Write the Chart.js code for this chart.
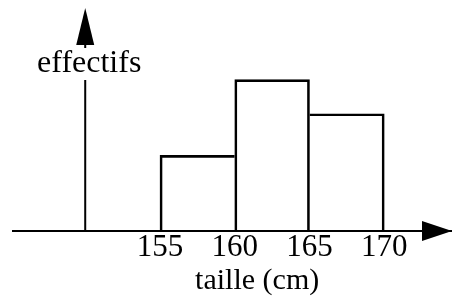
<!DOCTYPE html>
<html>
<head>
<meta charset="utf-8">
<script src="https://cdn.jsdelivr.net/npm/chart.js@4/dist/chart.umd.min.js"></script>
<style>
    html, body { margin: 0; padding: 0; background: #fff; }
    canvas { display: block; }
</style>
</head>
<body>
<canvas id="hist" width="452" height="300"></canvas>
<script>
// Height classes (cm) and counts
const classStart = [155, 160, 165];
const classEnd = [160, 165, 170];
const effectifs = [10, 20, 15.5];
const tickValues = [155, 160, 165, 170];
const yAxisAt = 150;

const FONT = "'Liberation Serif', 'Times New Roman', serif";
const LINE = 2;

/**
 * Draw axes arrows, the vertical axis and the two axis labels
 */
const axisArrows = {
    id: 'axisArrows',
    afterDraw(chart) {
        const ctx = chart.ctx;
        const { top, bottom, right } = chart.chartArea;
        const xs = chart.scales.x;
        const x0 = xs.getPixelForValue(yAxisAt);

        ctx.save();
        ctx.fillStyle = '#000';
        ctx.strokeStyle = '#000';
        ctx.lineWidth = LINE;

        // x arrow head
        ctx.beginPath();
        ctx.moveTo(right, bottom);
        ctx.lineTo(right - 30, bottom - 10);
        ctx.lineTo(right - 30, bottom + 10);
        ctx.closePath();
        ctx.fill();

        // vertical axis, broken by the label
        ctx.beginPath();
        ctx.moveTo(x0, bottom);
        ctx.lineTo(x0, top + 72);
        ctx.moveTo(x0, top + 36);
        ctx.lineTo(x0, top + 40);
        ctx.stroke();

        // y arrow head
        ctx.beginPath();
        ctx.moveTo(x0, top);
        ctx.lineTo(x0 - 9, top + 37);
        ctx.lineTo(x0 + 9, top + 37);
        ctx.closePath();
        ctx.fill();

        // labels
        ctx.textAlign = 'center';
        ctx.textBaseline = 'alphabetic';
        ctx.font = '32px ' + FONT;
        ctx.fillText('effectifs', x0 + 4, top + 64);
        ctx.font = '30px ' + FONT;
        ctx.fillText('taille (cm)', xs.getPixelForValue(161.5), bottom + 58);
        ctx.restore();
    }
};

// Draw each shared side once (by the taller bar)
function barBorder(context) {
    const i = context.dataIndex;
    const last = effectifs.length - 1;
    return {
        top: LINE,
        left: i === 0 || effectifs[i] > effectifs[i - 1] ? LINE : 0,
        right: i === last || effectifs[i] >= effectifs[i + 1] ? LINE : 0,
        bottom: 0
    };
}

new Chart(document.getElementById('hist'), {
    type: 'bar',
    data: {
        datasets: [{
            data: classStart.map((s, i) => ({ x: (s + classEnd[i]) / 2, y: effectifs[i] })),
            backgroundColor: 'rgba(0,0,0,0)',
            borderColor: '#000',
            borderWidth: barBorder,
            borderSkipped: false,
            barPercentage: 1,
            categoryPercentage: 1
        }]
    },
    options: {
        responsive: false,
        animation: false,
        devicePixelRatio: 1,
        layout: { padding: { left: 13, right: 0, top: 8, bottom: 36 } },
        plugins: {
            legend: { display: false },
            tooltip: { enabled: false }
        },
        scales: {
            x: {
                type: 'linear',
                offset: false,
                min: 145.17,
                max: 174.53,
                afterBuildTicks: scale => {
                    scale.ticks = tickValues.map(v => ({ value: v }));
                },
                grid: { display: false, drawTicks: false },
                border: { display: true, color: '#000', width: LINE },
                ticks: {
                    color: '#000',
                    padding: 1,
                    autoSkip: false,
                    maxRotation: 0,
                    font: { family: FONT, size: 31, lineHeight: 1 }
                }
            },
            y: {
                display: false,
                min: 0,
                max: 29.47
            }
        }
    },
    plugins: [axisArrows]
});
</script>
</body>
</html>
